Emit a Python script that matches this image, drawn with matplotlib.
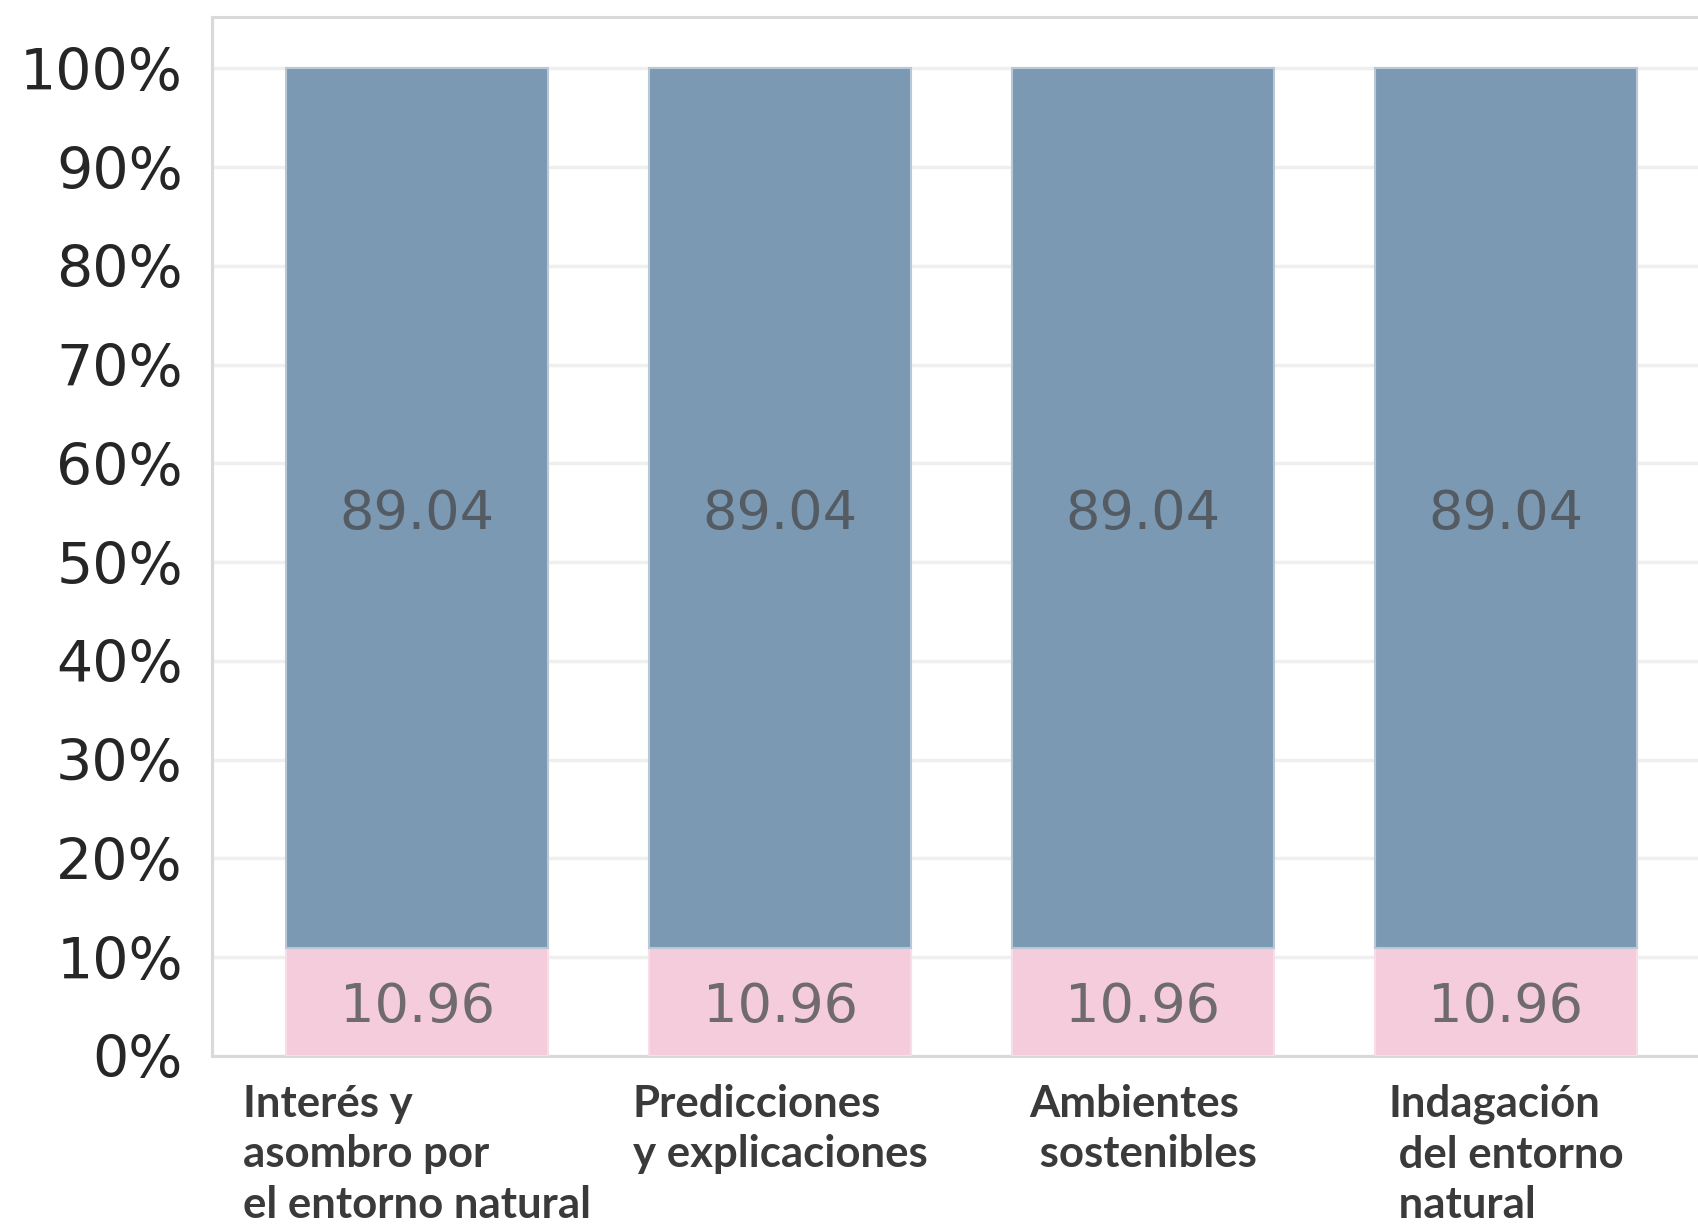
import matplotlib
matplotlib.use("Agg")
import matplotlib.pyplot as plt
from matplotlib.ticker import FuncFormatter

categories = ["Interés y\nasombro por\nel entorno natural",
              "Predicciones\ny explicaciones",
              "Ambientes\n sostenibles",
              "Indagación\n del entorno\n natural"]
low_values = [10.96, 10.96, 10.96, 10.96]
high_values = [89.04, 89.04, 89.04, 89.04]
yticks = [0, 10, 20, 30, 40, 50, 60, 70, 80, 90, 100]

W, H = 1698, 1226
fig = plt.figure(figsize=(W / 100, H / 100), dpi=100)
left_px, right_px, top_px, bottom_px = 212, 1760, 17, 1056
ax = fig.add_axes([left_px / W, 1 - bottom_px / H, (right_px - left_px) / W, (bottom_px - top_px) / H])

x = list(range(len(categories)))
pink = "#F4CCDC"
blue = "#7B99B2"
b1 = ax.bar(x, low_values, width=0.72, color=pink, edgecolor="#F8DDE8", linewidth=1.5, zorder=3)
b2 = ax.bar(x, high_values, bottom=low_values, width=0.72, color=blue, edgecolor="#B9C8D6", linewidth=1.5, zorder=3)

for rect, v in zip(b1, low_values):
    ax.text(rect.get_x() + rect.get_width() / 2, rect.get_y() + rect.get_height() / 2,
            f"{v:.2f}", ha="center", va="center_baseline", fontsize=39, color="#6f6a6d", zorder=4)
for rect, v in zip(b2, high_values):
    ax.text(rect.get_x() + rect.get_width() / 2, rect.get_y() + rect.get_height() / 2,
            f"{v:.2f}", ha="center", va="center_baseline", fontsize=39, color="#545b62", zorder=4)

ax.set_xlim(-0.565, 3.70)
ax.set_ylim(0, 105.2)
ax.set_yticks(yticks)
ax.yaxis.set_major_formatter(FuncFormatter(lambda v, p: f"{int(v)}%"))
ax.tick_params(axis="y", length=0, pad=21, labelsize=41, labelcolor="#262626")
ax.set_xticks(x)
ax.set_xticklabels(categories, fontfamily="Lato", fontweight="bold", fontsize=31.5, color="#3a3a3a",
                   multialignment="left", linespacing=1.32)
ax.tick_params(axis="x", length=0, pad=20)

ax.grid(axis="y", color="#efefef", linewidth=2.5, zorder=0)
ax.set_axisbelow(True)
for s in ["left", "bottom", "top"]:
    ax.spines[s].set_color("#d9d9d9")
    ax.spines[s].set_linewidth(2.2)
ax.spines["right"].set_visible(False)

fig.savefig("out.png", dpi=100, facecolor="white")
